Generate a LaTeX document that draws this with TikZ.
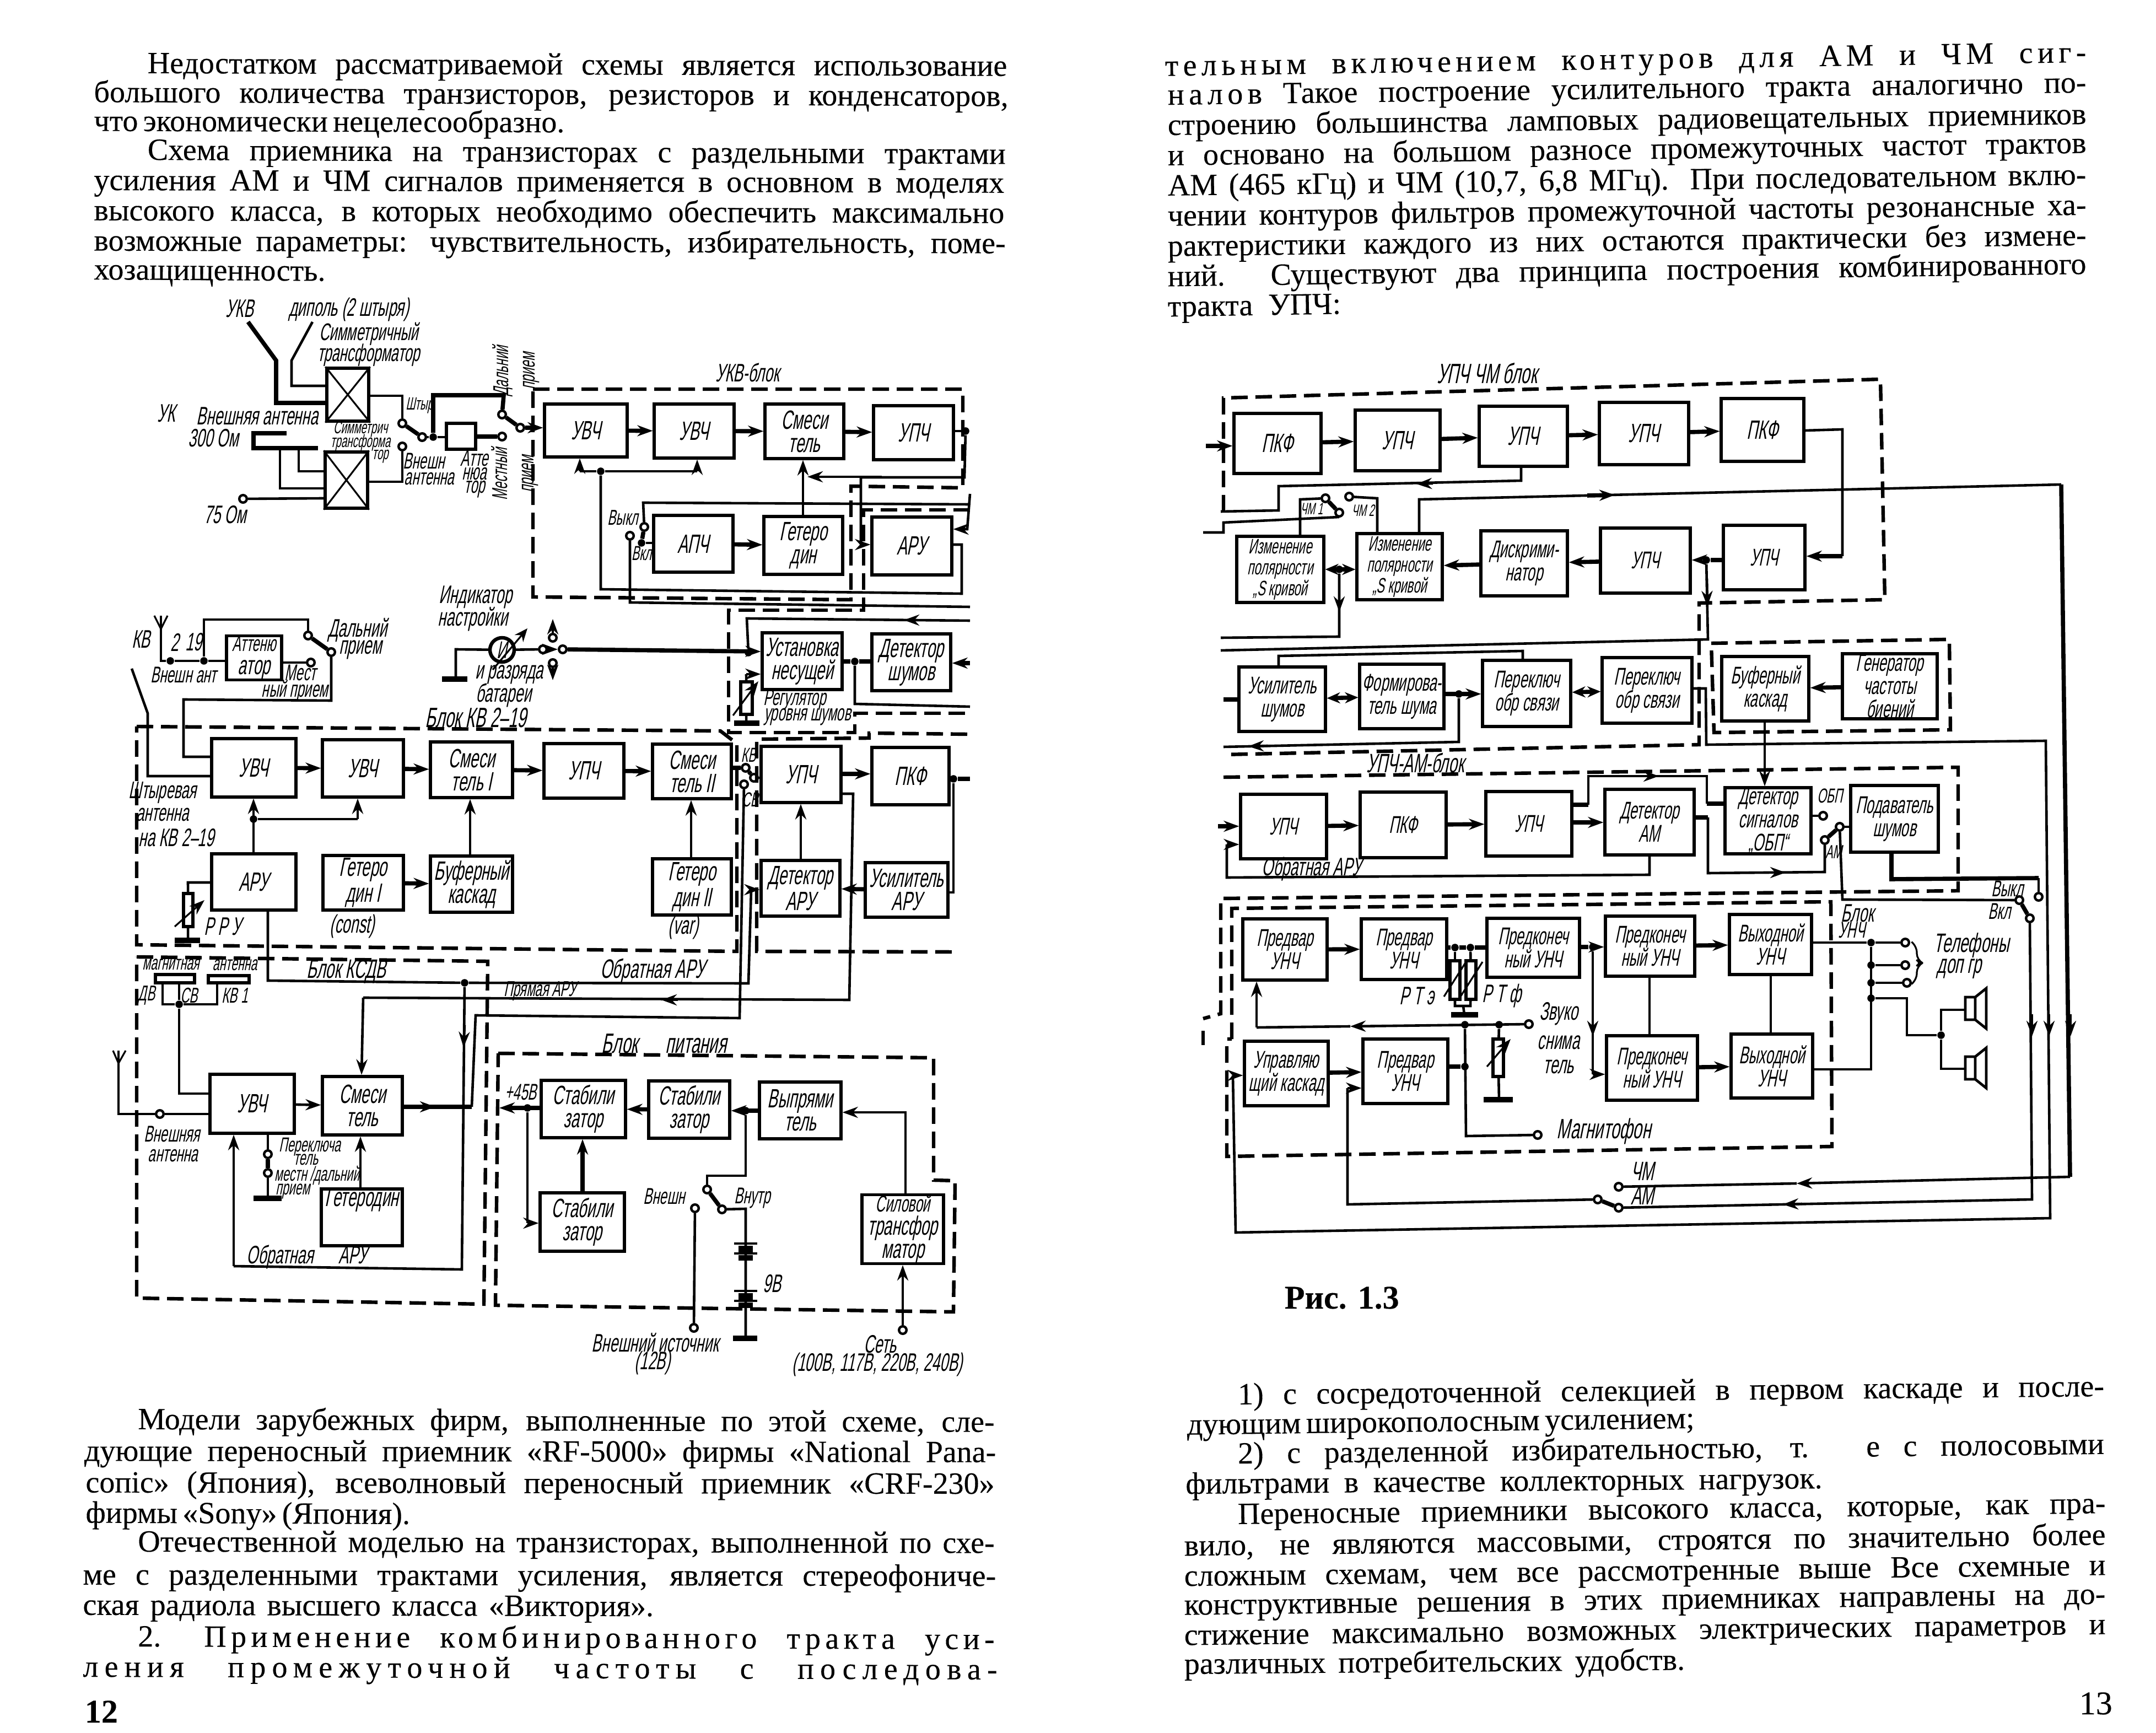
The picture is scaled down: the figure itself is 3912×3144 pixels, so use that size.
\documentclass[tikz,border=0pt]{standalone}
\usepackage{fontspec}
\usetikzlibrary{arrows.meta}
\setmainfont[FakeBold=0.2]{Liberation Serif}
\newfontfamily\gost[FakeStretch=.58,FakeSlant=.2]{Liberation Sans}
\newcount\lbc
\tikzset{
 wr/.style={line width=0.8pt,line join=miter},
 wt/.style={line width=1.9pt},
 wm/.style={line width=1.15pt},
 ar/.style={-{Stealth[length=7pt,width=5pt]}},
 ab/.style={{Stealth[length=6pt,width=5pt]}-{Stealth[length=6pt,width=5pt]}},
 dsh/.style={line width=1.6pt,dash pattern=on 7.5pt off 3.5pt},
 boxst/.style={draw,line width=1.3pt,inner sep=0pt,align=center,font=\gost\fontsize{12}{10.5}\selectfont},
 cirst/.style={circle,draw,fill=white,line width=1.1pt,minimum size=3.4pt,inner sep=0pt},
 dotst/.style={circle,fill=black,minimum size=3.4pt,inner sep=0pt},
 lbst/.style={inner sep=0pt,align=center,font=\gost},
 gnd/.style={line width=2.4pt},
 txt/.style={inner sep=0pt,anchor=base west,font=\fontsize{14}{14}\selectfont},
}
\newcommand{\Bx}[6]{\pgfmathsetmacro\bw{(#4-#2)*.25}\pgfmathsetmacro\bh{(#5-#3)*.25}%
 \node[boxst,minimum width=\bw pt,minimum height=\bh pt] (#1) at ({(#2+#4)/2},{(#3+#5)/2}) {#6};}
\newcommand{\Cir}[3]{\node[cirst] (#1) at (#2,#3) {};}
\newcommand{\Dt}[3]{\node[dotst] (#1) at (#2,#3) {};}
\newcommand{\Lb}[4]{\global\advance\lbc by 1 \pgfmathsetmacro\lbs{#3*1.15}\node[lbst] (lb\the\lbc) at (#1,#2) {\fontsize{\lbs}{\lbs}\selectfont #4};}
\newcommand{\LbR}[4]{\global\advance\lbc by 1 \pgfmathsetmacro\lbs{#3*1.15}\node[lbst,rotate=90] (lb\the\lbc) at (#1,#2) {\fontsize{\lbs}{\lbs}\selectfont #4};}
\newcommand{\Tl}[5]{\global\advance\lbc by 1 \pgfmathsetmacro\tlw{veclen(#3-#1,#4-#2)*2.495*.25}\pgfmathsetmacro\tla{atan2(#2-#4,#3-#1)}%
 \node[txt,rotate=\tla] (tl\the\lbc) at ({#1*2.495},{#2*2.495+18}) {\makebox[\tlw pt][s]{#5}};}
\begin{document}
\begin{tikzpicture}[x=0.25pt,y=-0.25pt]
\fill[white] (0,0) rectangle (3912,3144);
\useasboundingbox (0,0) rectangle (3912,3144);
\clip (0,0) rectangle (3912,3144);
%% ---------- text left
\Tl{107}{46}{732}{48}{Недостатком рассматриваемой схемы является использование}
\Tl{68}{67}{733}{70}{большого количества транзисторов, резисторов и конденсаторов,}
\Tl{68}{88}{400}{89}{что экономически нецелесообразно.}
\Tl{107}{109}{731}{112}{Схема приемника на транзисторах с раздельными трактами}
\Tl{68}{131}{730}{133}{усиления АМ и ЧМ сигналов применяется в основном в моделях}
\Tl{68}{153}{730}{155}{высокого класса, в которых необходимо обеспечить максимально}
\Tl{68}{175}{731}{177}{возможные параметры: чувствительность, избирательность, поме-}
\Tl{68}{196}{232}{197}{хозащищенность.}
\Tl{100}{1032}{723}{1034}{Модели зарубежных фирм, выполненные по этой схеме, сле-}
\Tl{61}{1055}{724}{1056}{дующие переносный приемник «RF-5000» фирмы «National Pana-}
\Tl{62}{1078}{723}{1079}{сопіс» (Япония), всеволновый переносный приемник «CRF-230»}
\Tl{62}{1100}{295}{1101}{фирмы «Sony» (Япония).}
\Tl{100}{1121}{723}{1122}{Отечественной моделью на транзисторах, выполненной по схе-}
\Tl{60}{1145}{724}{1146}{ме с разделенными трактами усиления, является стереофониче-}
\Tl{60}{1167}{475}{1168}{ская радиола высшего класса «Виктория».}
\Tl{100}{1190}{723}{1192}{2. \addfontfeature{LetterSpace=15}Применение комбинированного тракта уси-}
\Tl{60}{1212}{725}{1214}{\addfontfeature{LetterSpace=20}ления промежуточной частоты с последова-}
\global\advance\lbc by 1 \node[txt,font=\bfseries\fontsize{15}{15}\selectfont] (tl\the\lbc) at (153,3125) {12};
%% ---------- text right
\Tl{847}{48}{1517}{38}{\addfontfeature{LetterSpace=15}тельным включением контуров для АМ и ЧМ сиг-}
\Tl{849}{69}{1517}{60}{{\addfontfeature{LetterSpace=15}налов} Такое построение усилительного тракта аналогично по-}
\Tl{849}{91}{1517}{83}{строению большинства ламповых радиовещательных приемников}
\Tl{849}{113}{1517}{104}{и основано на большом разносе промежуточных частот трактов}
\Tl{849}{135}{1517}{127}{АМ (465 кГц) и ЧМ (10,7, 6,8 МГц). При последовательном вклю-}
\Tl{849}{157}{1517}{149}{чении контуров фильтров промежуточной частоты резонансные ха-}
\Tl{849}{179}{1517}{171}{рактеристики каждого из них остаются практически без измене-}
\Tl{849}{201}{1517}{192}{ний. Существуют два принципа построения комбинированного}
\Tl{849}{223}{975}{221}{тракта УПЧ:}
\global\advance\lbc by 1 \node[txt,font=\bfseries\fontsize{15}{15}\selectfont] (tl\the\lbc) at (2330,2374) {Рис. 1.3};
\Tl{900}{1014}{1530}{1008}{1) с сосредоточенной селекцией в первом каскаде и после-}
\Tl{863}{1036}{1170}{1032}{дующим широкополосным усилением;}
\Tl{900}{1057}{1530}{1050}{2) с разделенной избирательностью, т. е с полосовыми}
\Tl{862}{1079}{1325}{1075}{фильтрами в качестве коллекторных нагрузок.}
\Tl{900}{1101}{1531}{1093}{Переносные приемники высокого класса, которые, как пра-}
\Tl{861}{1124}{1531}{1116}{вило, не являются массовыми, строятся по значительно более}
\Tl{861}{1146}{1531}{1138}{сложным схемам, чем все рассмотренные выше Все схемные и}
\Tl{861}{1167}{1531}{1159}{конструктивные решения в этих приемниках направлены на до-}
\Tl{861}{1189}{1531}{1181}{стижение максимально возможных электрических параметров и}
\Tl{861}{1210}{1225}{1207}{различных потребительских удобств.}
\global\advance\lbc by 1 \node[txt,font=\fontsize{15}{15}\selectfont] (tl\the\lbc) at (3772,3110) {13};

%% ========== LEFT DIAGRAM : boxes
\Bx{tr1}{593}{668}{669}{764}{}
\Bx{tr2}{590}{820}{667}{922}{}
\draw[wr] (tr1.north west)--(tr1.south east) (tr1.north east)--(tr1.south west);
\draw[wr] (tr2.north west)--(tr2.south east) (tr2.north east)--(tr2.south west);
\Bx{att}{810}{768}{863}{815}{}
\Bx{uu1}{988}{733}{1138}{829}{УВЧ}
\Bx{uu2}{1187}{733}{1332}{831}{УВЧ}
\Bx{usm}{1388}{733}{1531}{832}{Смеси\\тель}
\Bx{uup}{1585}{736}{1730}{834}{УПЧ}
\Bx{uap}{1186}{935}{1330}{1038}{АПЧ}
\Bx{uge}{1386}{937}{1529}{1042}{Гетеро\\дин}
\Bx{uar}{1582}{938}{1727}{1043}{АРУ}
\Bx{ust}{1383}{1148}{1528}{1251}{Установка\\несущей}
\Bx{ude}{1582}{1150}{1725}{1253}{Детектор\\шумов}
\Bx{krr}{1344}{1237}{1365}{1296}{}
\Bx{kat}{411}{1154}{511}{1233}{\fontsize{10}{10}\selectfont Аттеню\\атор}
\Bx{ku1}{384}{1340}{537}{1446}{УВЧ}
\Bx{ku2}{585}{1342}{732}{1446}{УВЧ}
\Bx{ks1}{781}{1346}{930}{1447}{Смеси\\тель I}
\Bx{kup}{987}{1349}{1132}{1448}{УПЧ}
\Bx{ks2}{1184}{1350}{1327}{1449}{Смеси\\тель II}
\Bx{kar}{384}{1549}{537}{1651}{АРУ}
\Bx{kg1}{586}{1552}{732}{1651}{Гетеро\\дин I}
\Bx{kbu}{781}{1553}{930}{1655}{Буферный\\каскад}
\Bx{kg2}{1184}{1558}{1327}{1660}{Гетеро\\дин II}
\Bx{krp}{333}{1621}{350}{1681}{}
\Bx{rup}{1381}{1354}{1526}{1456}{УПЧ}
\Bx{rpk}{1582}{1356}{1722}{1460}{ПКФ}
\Bx{rda}{1381}{1561}{1524}{1662}{Детектор\\АРУ}
\Bx{rua}{1570}{1565}{1720}{1664}{Усилитель\\АРУ}
\Bx{su}{381}{1949}{534}{2056}{УВЧ}
\Bx{ss}{585}{1953}{730}{2059}{Смеси\\тель}
\Bx{sg}{583}{2157}{730}{2260}{\raisebox{5pt}[0pt][0pt]{Гетеродин}}
\Bx{p1}{982}{1960}{1135}{2064}{Стабили\\затор}
\Bx{p2}{1177}{1961}{1324}{2065}{Стабили\\затор}
\Bx{pv}{1378}{1963}{1526}{2066}{Выпрями\\тель}
\Bx{p3}{980}{2164}{1133}{2270}{Стабили\\затор}
\Bx{ptr}{1564}{2176}{1712}{2284}{\fontsize{10.5}{9.5}\selectfont Силовой\\трансфор\\матор}
\Bx{mb1}{282}{1768}{353}{1783}{}
\Bx{mb2}{378}{1770}{452}{1783}{}
%% small circles / dots
\Cir{c1}{730}{768}\Cir{c2}{766}{793}\Dt{d2}{786}{793}\Cir{c3}{911}{752}\Cir{c4}{944}{776}\Cir{c5}{911}{792}\Cir{c6}{730}{810}\Cir{c7}{441}{905}
\Dt{d3}{1752}{782}\Cir{c8}{1169}{956}\Cir{c9}{1143}{972}\Dt{d4}{1164}{985}\Dt{d5}{1090}{855}
\node[circle,draw,line width=1.6pt,fill=white,minimum size=11pt,inner sep=0pt,font=\gost\fontsize{11}{10}\selectfont] (mtr) at (911,1179) {И};
\Cir{c10}{985}{1178}\Cir{c11}{1021}{1178}\Cir{c12}{1003}{1157}\Cir{c13}{1003}{1203}
\Dt{d7}{1358}{1184}\Dt{d8}{1551}{1200}
\Dt{d9}{309}{1199}\Dt{d10}{370}{1199}\Cir{c14}{559}{1153}\Cir{c15}{601}{1183}\Cir{c16}{564}{1202}
\Cir{c17}{1353}{1393}\Cir{c18}{1368}{1411}\Cir{c19}{1350}{1423}\Dt{d11}{460}{1486}\Dt{d12}{843}{1783}\Dt{d13}{1730}{1413}
\Dt{d14}{325}{1822}\Cir{c20}{290}{2021}\Cir{c21}{486}{2094}\Cir{c22}{486}{2128}
\Dt{d15}{957}{2010}\Dt{d16}{1353}{2015}\Cir{c23}{1283}{2158}\Cir{c24}{1310}{2194}\Cir{c25}{1261}{2192}\Cir{c26}{1259}{2409}\Cir{c27}{1638}{2413}
%% wires: antennas
\coordinate (ua) at (450,584);\coordinate (ub) at (567,584);
\draw[wt] (ua)--(501,654)--(501,731)--(tr1.west|-0,731);
\draw[wm] (ub)--(529,654)--(529,700)--(tr1.west|-0,700);
\coordinate (fd) at (520,786);\coordinate (fe) at (577,813);
\draw[wt] (fd)--(460,786)--(460,813)--(fe);
\draw[wm] (508,813)--(508,886)--(tr2.west|-0,886);
\draw[wm] (542,813)--(542,855)--(tr2.west|-0,855);
\draw[wm] (c7)--(tr2.west|-0,904);
\draw[wm] (tr1.east|-0,718)--(730,718)--(c1);
\draw[wt] (c1)--(c2);\draw[wm] (c2)--(d2);\draw[wm] (d2)--(att.west|-d2);
\draw[wt] (d2)--(786,717)--(914,717)--(c3);
\draw[wt] (c3)--(c4);\draw[wt,ar] (c4)--(uu1.west|-c4);
\draw[wt] (att.east|-c5)--(c5);
\draw[wm] (c6)--(730,874)--(tr2.east|-0,874);
%% wires UKV block
\draw[wt,ar] (uu1)--(uu2);\draw[wt,ar] (uu2)--(usm);\draw[wt,ar] (usm)--(uup);
\draw[wm] (uup.east|-d3)--(d3);
\draw[wm,ar] (uge.north-|1457,0)--(usm.south-|1457,0);
\draw[wt,ar] (uap)--(uge);
\draw[wm] (d5)--(1052,855);\draw[wm,ar] (1052,855)--(uu1.south-|1052,0);
\draw[wm] (d5)--(1265,855);\draw[wm,ar] (1265,855)--(uu2.south-|1265,0);
\draw[wm] (uar.east|-0,988)--(1745,988)--(1745,1077)--(1090,1069)--(d5);
\draw[wm] (d3)--(1750,866)--(1562,866)--(1562,988);
\draw[wm,ar] (1562,988)--(uar.west|-0,988);
\draw[wm,ar] (1600,865)--(1465,865);
\coordinate (re1) at (1760,915);\coordinate (re2) at (1760,1101);\coordinate (re3) at (1760,896);
\draw[wm] (c8)--(1167,912)--(re1);
\draw[wm] (c9)--(1143,1093)--(re2);
\draw[wt] (c8)--(d4);\draw[wm] (d4)--(uap.west|-d4);
\draw[wm,ar] (re3)--(1755,960)--(uar.east|-0,960);
%% Indicator
\coordinate (mg) at (827,1232);
\draw[wm] (mtr)--(827,1178)--(mg);\draw[gnd] (802,1232)--(848,1232);
\draw[wr,-{Stealth[length=6pt,width=5pt]}] (894,1215)--(957,1140);
\draw[wm] (mtr)--(c10);\draw[wt,ar] (c10)--(c11);
\draw[wm,ar] (c12)--(1003,1123);\draw[wm,ar] (c13)--(1003,1234);
\draw[wt,ar] (c11)--(ust.west|-0,1182);
%% noise part
\coordinate (nr1) at (1760,1126);\coordinate (nr2) at (1760,1282);\coordinate (nr3) at (1760,1203);\coordinate (kr4) at (1760,1413);
\draw[wm] (nr1)--(1355,1122)--(d7);\draw[wm,ar] (1680,1125)--(1640,1125);
\draw[wm] (krr)--(1354,1223);\draw[wm,ar] (1354,1223)--(ust.west|-0,1223);
\draw[wm] (krr)--(1354,1312);\draw[gnd] (1332,1312)--(1378,1312);
\draw[wr,ar] (1330,1298)--(1376,1236);
\draw[wt] (ust.east|-d8)--(d8)--(ude.west|-d8);
\draw[wm] (d8)--(1551,1277)--(nr2);
\draw[wt,ar] (nr3)--(ude.east|-nr3);
%% KV in
\coordinate (kant) at (292,1141);
\draw[wm] (kant)--(292,1199)--(d9)--(d10)--(kat.west|-d10);
\draw[wr] (280,1117)--(kant)--(304,1117);\draw[wr] (292,1117)--(kant);
\draw[wm] (d10)--(370,1124)--(559,1124)--(c14);
\draw[wt] (c14)--(c15);\draw[wm] (kat.east|-c16)--(c16);
\draw[wm] (c15)--(601,1271)--(333,1269)--(333,1373)--(ku1.west|-0,1373);
\coordinate (kst) at (239,1213);
\draw[wm] (kst)--(268,1294)--(268,1408)--(ku1.west|-0,1408);
\draw[wt,ar] (ku1)--(ku2);\draw[wt,ar] (ku2)--(ks1);\draw[wt,ar] (ks1)--(kup);\draw[wt,ar] (kup)--(ks2);
\draw[wm,ar] (kar.north-|460,0)--(ku1.south-|460,0);
\draw[wm] (d11)--(649,1486);\draw[wm,ar] (649,1486)--(ku2.south-|649,0);
\draw[wm,ar] (kbu.north-|853,0)--(ks1.south-|853,0);
\draw[wm,ar] (kg2.north-|1254,0)--(ks2.south-|1254,0);
\draw[wt,ar] (kg1)--(kbu);
\draw[wm] (krp)--(341,1601)--(kar.west|-0,1601);
\draw[wm] (krp)--(341,1706);\draw[gnd] (317,1706)--(363,1706);
\draw[wr,ar] (317,1681)--(371,1633);
\draw[wt] (ks2.east|-c17)--(c17);\draw[wt] (c17)--(c18);\draw[wm] (c18)--(rup.west|-c18);
\draw[wt,ar] (rup.east|-0,1404)--(rpk.west|-0,1404);
\draw[wm,ar] (rda.north-|1453,0)--(rup.south-|1453,0);
\draw[wt,ar] (rua)--(rda);
\draw[wt] (rpk.east|-d13)--(d13)--(kr4);
\draw[wm] (d13)--(1730,1619)--(rua.east|-0,1619);
\draw[wm] (kar.south-|486,0)--(486,1779)--(d12)--(1358,1784)--(1363,1614);
\draw[wm,ar] (1363,1614)--(rda.west|-0,1614);
\draw[wm] (c19)--(1342,1847)--(863,1842)--(856,2008);
\draw[wt] (ss.east|-0,2008)--(856,2008);\draw[wm,ar] (780,2008)--(790,2008);
\draw[wm] (d12)--(838,2303)--(424,2297);\draw[wm,ar] (424,2297)--(su.south-|424,0);
\draw[wm,ar] (843,1860)--(841,1900);
\draw[wm] (rup.east|-0,1440)--(1548,1440)--(1541,1814)--(659,1810);
\draw[wm,ar] (659,1810)--(656,1950);
\draw[wm,ar] (1230,1814)--(1200,1814);
%% KSDV
\draw[wm] (295,1783)--(295,1822)--(d14)--(394,1822)--(394,1783);
\draw[wm] (325,1783)--(d14);
\draw[wm] (d14)--(325,1984)--(su.west|-0,1984);
\coordinate (san) at (215,1929);
\draw[wr] (205,1906)--(san)--(228,1906);\draw[wr] (215,1906)--(san);
\draw[wm] (san)--(215,2021)--(c20)--(su.west|-c20);
\draw[wm,ar] (su)--(ss);
\draw[wm] (su.south-|486,0)--(c21);\draw[wt] (c21)--(c22);\draw[wm] (c22)--(486,2174);\draw[gnd] (460,2174)--(511,2174);
\draw[wm,ar] (sg.north-|654,0)--(ss.south-|654,0);
%% Power
\draw[wt,ar] (p1.west|-d15)--(906,2010);
\draw[wm] (d15)--(957,2219);\draw[wm,ar] (957,2219)--(p3.west|-0,2219);
\draw[wt,ar] (p3.north-|1057,0)--(p1.south-|1057,0);
\draw[wt,ar] (p2)--(p1);
\draw[wt,ar] (pv.west|-d16)--(p2.east|-d16);
\draw[wm] (d16)--(1353,2133)--(1283,2133)--(c23);
\draw[wt] (c23)--(c24);
\coordinate (bg) at (1353,2428);
\draw[wm] (c24)--(1353,2193)--(bg);\draw[gnd] (1330,2428)--(1374,2428);
\draw[wm] (c25)--(c26);
\draw[wm,ar] (ptr.north-|1643,0)--(1643,2018)--(pv.east|-0,2018);
\draw[wm,ar] (c27)--(ptr.south-|1638,0);
\begin{scope}[line width=1.2pt]
\draw (1332,2256)--(1374,2256);\draw[gnd,line width=3pt] (1340,2266)--(1366,2266);\draw (1332,2274)--(1374,2274);\draw[gnd] (1340,2282)--(1366,2282);
\draw (1332,2342)--(1374,2342);\draw[gnd,line width=3pt] (1340,2352)--(1366,2352);\draw (1332,2360)--(1374,2360);\draw[gnd] (1340,2368)--(1366,2368);
\end{scope}
%% Dashed left
\draw[dsh] (967,706)--(1747,706)--(1747,885)--(1544,882)--(1544,1088)--(967,1083)--cycle;
\draw[dsh] (1760,925)--(1567,925)--(1567,1107)--(1322,1107)--(1322,1329)--(1551,1329)--(1551,1294)--(1760,1294);
\draw[dsh] (248,1318)--(1307,1326)--(1337,1349)--(1337,1726)--(248,1714)--cycle;
\draw[dsh] (1755,1332)--(1577,1330)--(1577,1339)--(1373,1341)--(1373,1726)--(1740,1727);
\draw[dsh] (248,1736)--(885,1744)--(878,2366)--(248,2355)--cycle;
\draw[dsh] (904,1911)--(1694,1919)--(1694,2141)--(1733,2142)--(1730,2380)--(899,2368)--cycle;
%% Left labels
\Lb{435}{560}{10}{УКВ}\Lb{633}{562}{10}{диполь (2 штыря)}
\Lb{669}{606}{9.5}{Симметричный}\Lb{669}{644}{9.5}{трансформатор}
\Lb{302}{750}{10}{УК}\Lb{467}{755}{10}{Внешняя антенна}\Lb{387}{795}{10}{300 Ом}
\Lb{409}{934}{10}{75 Ом}\Lb{761}{736}{7}{Штыр}
\Lb{654}{779}{7}{Симметрич}\Lb{654}{803}{7}{трансформа}\Lb{690}{828}{7}{тор}
\Lb{769}{836}{9}{Внешн}\Lb{779}{869}{9}{антенна}
\Lb{861}{831}{9}{Атте}\Lb{861}{860}{9}{нюа}\Lb{861}{888}{9}{тор}
\LbR{936}{673}{8.5}{Дальний\\прием}\LbR{934}{860}{8.5}{Местный\\прием}
\Lb{1356}{676}{10}{УКВ-блок}\Lb{1130}{939}{8.5}{Выкл}\Lb{1164}{1004}{8}{Вкл}
\Lb{863}{1083}{10}{Индикатор}\Lb{858}{1123}{10}{настройки}\Lb{924}{1224}{10}{и разряда}\Lb{914}{1261}{10}{батареи}
\Lb{863}{1302}{11}{Блок КВ 2–19}
\Lb{1442}{1270}{9}{Регулятор}\Lb{1465}{1301}{9}{уровня шумов}
\Lb{256}{1160}{10}{КВ}\Lb{317}{1165}{10}{2}\Lb{351}{1165}{10}{19}\Lb{649}{1143}{10}{Дальний}\Lb{654}{1179}{10}{прием}
\Lb{333}{1224}{9}{Внешн ант}\Lb{545}{1220}{9}{Мест}\Lb{535}{1253}{9}{ный прием}
\Lb{295}{1438}{9.5}{Штыревая}\Lb{295}{1478}{9.5}{антенна}\Lb{320}{1520}{10}{на КВ 2–19}
\Lb{404}{1681}{10}{Р Р У}\Lb{639}{1681}{10}{(const)}\Lb{1240}{1683}{10}{(var)}
\Lb{1358}{1370}{8}{КВ}\Lb{1361}{1451}{8}{СВ}
\Lb{628}{1762}{10.5}{Блок КСДВ}\Lb{1184}{1762}{10.5}{Обратная АРУ}\Lb{980}{1798}{8.5}{Прямая АРУ}
\Lb{310}{1750}{8}{магнитная}\Lb{426}{1751}{8}{антенна}\Lb{266}{1806}{8.5}{ДВ}\Lb{343}{1806}{8.5}{СВ}\Lb{426}{1806}{8.5}{КВ 1}
\Lb{312}{2057}{9}{Внешняя}\Lb{314}{2097}{9}{антенна}
\Lb{562}{2081}{8}{Переключа}\Lb{555}{2104}{8}{тель}\Lb{575}{2133}{8}{местн /дальний}\Lb{531}{2161}{8}{прием}
\Lb{557}{2280}{10}{Обратная\quad АРУ}\Lb{1205}{1893}{11}{Блок\quad питания}\Lb{945}{1981}{9}{+45В}
\Lb{1205}{2170}{9}{Внешн}\Lb{1365}{2174}{9}{Внутр}\Lb{1401}{2329}{10}{9В}
\Lb{1189}{2436}{10}{Внешний источник}\Lb{1184}{2473}{10}{(12В)}\Lb{1597}{2439}{10}{Сеть}\Lb{1592}{2476}{10}{(100В, 117В, 220В, 240В)}

%% ========== RIGHT DIAGRAM boxes
\Bx{a1}{2239}{750}{2397}{859}{ПКФ}
\Bx{a2}{2459}{744}{2613}{854}{УПЧ}
\Bx{a3}{2684}{737}{2844}{846}{УПЧ}
\Bx{a4}{2902}{730}{3064}{843}{УПЧ}
\Bx{a5}{3123}{723}{3273}{837}{ПКФ}
\tikzset{boxst/.append style={font=\gost\fontsize{9.5}{9.5}\selectfont}}
\Bx{b1}{2244}{973}{2402}{1093}{Изменение\\полярности\\„S кривой}
\Bx{b2}{2462}{968}{2617}{1088}{Изменение\\полярности\\„S кривой}
\tikzset{boxst/.append style={font=\gost\fontsize{11}{10.5}\selectfont}}
\Bx{b3}{2687}{963}{2844}{1081}{Дискрими-\\натор}
\Bx{b4}{2904}{958}{3067}{1076}{УПЧ}
\Bx{b5}{3127}{953}{3275}{1070}{УПЧ}
\Bx{e1}{2248}{1210}{2405}{1327}{Усилитель\\шумов}
\Bx{e2}{2467}{1205}{2620}{1322}{Формирова-\\тель шума}
\Bx{e3}{2690}{1198}{2850}{1318}{Переключ\\обр связи}
\Bx{e4}{2907}{1193}{3070}{1312}{Переключ\\обр связи}
\Bx{e5}{3124}{1191}{3282}{1308}{Буферный\\каскад}
\Bx{e6}{3343}{1186}{3515}{1304}{Генератор\\частоты\\биений}
\Bx{f1}{2251}{1441}{2407}{1558}{УПЧ}
\Bx{f2}{2468}{1437}{2624}{1556}{ПКФ}
\Bx{f3}{2696}{1436}{2852}{1553}{УПЧ}
\Bx{f4}{2912}{1432}{3074}{1551}{Детектор\\АМ}
\Bx{f5}{3130}{1429}{3286}{1549}{Детектор\\сигналов\\„ОБП“}
\Bx{f6}{3358}{1425}{3517}{1546}{Подаватель\\шумов}
\Bx{g1}{2255}{1667}{2408}{1778}{Предвар\\УНЧ}
\Bx{g2}{2470}{1667}{2625}{1777}{Предвар\\УНЧ}
\Bx{g3}{2698}{1666}{2866}{1773}{Предконеч\\ный УНЧ}
\Bx{g4}{2913}{1662}{3075}{1771}{Предконеч\\ный УНЧ}
\Bx{g5}{3138}{1659}{3287}{1768}{Выходной\\УНЧ}
\Bx{h1}{2258}{1889}{2410}{2006}{Управляю\\щий каскад}
\Bx{h2}{2473}{1885}{2627}{2002}{Предвар\\УНЧ}
\Bx{h4}{2915}{1879}{3080}{1996}{Предконеч\\ный УНЧ}
\Bx{h5}{3141}{1876}{3289}{1992}{Выходной\\УНЧ}
\Bx{rt1}{2631}{1743}{2649}{1813}{}
\Bx{rt2}{2660}{1743}{2678}{1813}{}
\Bx{rv}{2709}{1885}{2728}{1953}{}
\Cir{e7}{2405}{904}\Cir{e8}{2430}{930}\Cir{e9}{2448}{901}
\Dt{q1}{2430}{1033}\Dt{q2}{3096}{1016}\Dt{q3}{2647}{1259}
\Cir{e10}{3308}{1480}\Cir{e11}{3338}{1500}\Cir{e12}{3311}{1524}
\Cir{e13}{3664}{1633}\Cir{e14}{3683}{1666}\Cir{e15}{3699}{1627}
\Dt{q4}{2640}{1719}\Dt{q5}{2668}{1719}\Dt{q6}{2890}{1718}
\Dt{q7}{3395}{1710}\Dt{q8}{3395}{1751}\Dt{q9}{3395}{1783}\Dt{q10}{3395}{1811}
\Cir{e16}{3457}{1710}\Cir{e17}{3457}{1751}\Cir{e18}{3460}{1783}\Dt{q11}{3522}{1878}
\Cir{e19}{2774}{1858}\Dt{q12}{2658}{1859}\Dt{q13}{2720}{1859}\Dt{q14}{2658}{1935}\Cir{e20}{2790}{2059}
\Cir{e21}{2899}{2176}\Cir{e22}{2937}{2191}\Cir{e23}{2937}{2153}
%% wires row 1
\coordinate (ain) at (2188,809);
\draw[wt,ar] (ain)--(a1.west|-ain);
\draw[wt,ar] (a1)--(a2);\draw[wt,ar] (a2)--(a3);\draw[wt,ar] (a3)--(a4);\draw[wt,ar] (a4)--(a5);
\draw[wm] (a5.east|-0,781)--(3343,779)--(3343,1009);\draw[wt,ar] (3343,1009)--(b5.east|-0,1009);
\coordinate (a3l) at (2215,928);
\draw[wm] (a3.south-|2760,0)--(2760,872)--(2320,882)--(2320,926)--(a3l);
\draw[wm,ar] (2600,877)--(2570,878);
%% switch
\draw[wm] (b1.north-|2359,0)--(2359,906)--(e7);
\draw[wt] (e7)--(e8);
\coordinate (swl) at (2183,966);
\draw[wm] (e8)--(2430,938)--(2220,948)--(2220,966)--(swl);
\draw[wm] (e9)--(2499,904)--(b2.north-|2499,0);
\draw[wm] (b2.north-|2575,0)--(2575,906)--(3740,879);
\draw[wt,ar] (2880,899)--(2930,898);
\draw[wt] (3740,879)--(3756,2135);
\draw[wm,ar] (3756,2135)--(3260,2147);\draw[wm] (3260,2147)--(e23);
%% row 2
\draw[wt] (b5.west|-q2)--(q2);\draw[wt,ar] (q2)--(b4.east|-q2);
\draw[wt,ar] (b4)--(b3);\draw[wt,ar] (b3)--(b2);
\draw[wt,ab] (b1.east|-q1)--(b2.west|-q1);
\coordinate (q1l) at (2215,1157);\coordinate (q2l) at (2215,1180);
\draw[wm] (q1)--(2430,1155)--(q1l);\draw[wm,ar] (2430,1060)--(2430,1110);
\draw[wm] (q2)--(3099,1160)--(q2l);\draw[wm,ar] (3097,1050)--(3098,1100);
%% row 3
\coordinate (el) at (2220,1269);
\draw[wt] (el)--(e1.west|-el);
\draw[wt,ab] (e1)--(e2);\draw[wt,ar] (e2.east|-q3)--(e3.west|-q3);\draw[wt,ab] (e3)--(e4);
\draw[wt,ar] (e6)--(e5);
\draw[wm] (e1.north-|2320,0)--(2320,1190)--(2763,1181)--(e3.north-|2763,0);
\coordinate (q3l) at (2220,1355);
\draw[wm] (q3)--(2647,1346)--(q3l);\draw[wm,ar] (2300,1353)--(2265,1354);
\draw[wm] (e4.east|-0,1249)--(3095,1249)--(3096,1351)--(3712,1344)--(3720,2210)--(2242,2236)--(2237,1951);
\draw[wm,ar] (2237,1951)--(h1.west|-0,1951);
\draw[wm,ar] (3718,1840)--(3718,1880);
\draw[wm,ar] (e5.south-|3202,0)--(f5.north-|3202,0);
%% row 4
\coordinate (fin) at (2210,1499);
\draw[wt,ar] (fin)--(f1.west|-fin);
\draw[wt,ar] (f1)--(f2);\draw[wt,ar] (f2)--(f3);\draw[wt,ar] (f3.east|-0,1492)--(f4.west|-0,1492);
\draw[wt] (f3.east|-0,1460)--(2882,1460);
\draw[wm] (2882,1460)--(2882,1408)--(3097,1408)--(3097,1458);\draw[wt] (3097,1458)--(f5.west|-0,1458);
\draw[wm,ar] (2980,1408)--(3010,1408);
\draw[wm] (f4.south-|2993,0)--(2993,1587)--(2226,1592)--(2226,1532);
\draw[wm,ar] (2226,1532)--(f1.west|-0,1532);
\draw[wt] (f4.east|-0,1483)--(3099,1483);
\draw[wm] (3099,1483)--(3099,1584)--(3311,1582)--(e12);\draw[wm,ar] (3210,1583)--(3240,1583);
\draw[wm] (f5.east|-e10)--(e10);
\draw[wt] (e12)--(e11);\draw[wm] (e11)--(f6.west|-e11);
\draw[wm] (e11)--(3343,1632)--(e13);
\draw[wt] (f6.south-|3432,0)--(3432,1595)--(3699,1593);\draw[wm] (3699,1593)--(e15);
\draw[wt] (e13)--(e14);
\draw[wm] (e14)--(3687,2176)--(e22);\draw[wm,ar] (3687,1840)--(3687,1880);\draw[wm,ar] (3270,2184)--(3235,2185);
%% row 5
\draw[wt,ar] (g1)--(g2);
\draw[wt] (g2.east|-q4)--(q4)--(q5)--(g3.west|-q5);
\draw[wm] (q4)--(rt1);\draw[wm] (q5)--(rt2);
\coordinate (rg) at (2657,1841);
\draw[wm] (rt1)--(2640,1825)--(2668,1825)--(rt2);\draw[wm] (2655,1825)--(rg);\draw[gnd] (2633,1841)--(2682,1841);
\draw[wr] (2620,1808)--(2660,1745);\draw[wr] (2650,1808)--(2690,1745);
\draw[wt] (g3.east|-q6)--(q6);\draw[wt,ar] (q6)--(g4.west|-q6);
\draw[wm] (q6)--(2890,1949);\draw[wm,ar] (2890,1949)--(h4.west|-0,1949);\draw[wm,ar] (2890,1840)--(2890,1880);
\draw[wt,ar] (g4)--(g5);\draw[wt,ar] (h4)--(h5);
\draw[wr] (g4.south-|2993,0)--(h4.north-|2993,0);
\draw[wr] (g5.south-|3213,0)--(h5.north-|3213,0);
\draw[wm] (g5.east|-q7)--(q7)--(e16);
\draw[wm] (q7)--(3395,1940)--(h5.east|-0,1940);
\draw[wm] (q8)--(e17);\draw[wm] (q9)--(e18);
\coordinate (sp1) at (3566,1832);\coordinate (sp2) at (3566,1939);
\draw[wm] (q10)--(3460,1811)--(3460,1878)--(q11);
\draw[wm] (q11)--(3522,1832)--(sp1);\draw[wm] (q11)--(3522,1939)--(sp2);
\foreach \yy in {1809,1917}{\draw[line width=1.2pt,line join=miter] (3566,\yy)--(3584,\yy)--(3584,\yy+41)--(3566,\yy+41)--cycle (3584,\yy)--(3604,\yy-16)--(3604,\yy+57)--(3584,\yy+41);}
\draw[wr,rounded corners=3pt] (3470,1710)--(3478,1716)--(3478,1742)--(3488,1747)--(3478,1752)--(3478,1778)--(3470,1784);
\draw[wm,ar] (e19)--(2450,1862);\draw[wm] (2450,1862)--(2280,1864);\draw[wm,ar] (2280,1864)--(g1.south-|2280,0);
\draw[wm] (q12)--(2660,2061)--(e20);
\draw[wm] (q13)--(rv);\draw[wm] (rv)--(2720,1995);\draw[gnd] (2692,1995)--(2745,1995);
\draw[wr,ar] (2698,1935)--(2741,1885);
\draw[wt,ar] (h1)--(h2);
\draw[wt] (h2.east|-q14)--(q14);
\draw[wm,ar] (2445,1974)--(h2.west|-0,1974);
\draw[wm] (e21)--(2445,2185)--(2445,1974);
\draw[wt] (e21)--(e22);
\draw[wm,ar] (3757,1840)--(3757,1880);
%% Dashed right
\draw[dsh] (2220,928)--(2220,722)--(3412,688)--(3420,1088)--(3083,1094)--(3083,1351)--(2220,1369);
\draw[dsh] (3105,1167)--(3537,1160)--(3539,1324)--(3110,1329)--cycle;
\draw[dsh] (2220,1410)--(3553,1392)--(3553,1616)--(2215,1630)--(2215,1839)--(2183,1848);
\draw[dsh] (2183,1870)--(2183,1896);
\draw[dsh] (2235,1885)--(2235,1648)--(3322,1636)--(3324,2080)--(2226,2098)--(2226,1885)--cycle;
%% Right labels
\Lb{2698}{677}{11}{УПЧ ЧМ блок}
\Lb{2380}{923}{6.5}{ЧМ 1}\Lb{2473}{926}{6.5}{ЧМ 2}
\Lb{2568}{1384}{10.5}{УПЧ-АМ-блок}\Lb{2380}{1576}{10}{Обратная АРУ}
\Lb{3320}{1444}{8}{ОБП}\Lb{3327}{1546}{7.5}{АМ}\Lb{3642}{1612}{9}{Выкл}\Lb{3628}{1653}{9}{Вкл}
\Lb{3370}{1657}{10}{Блок}\Lb{3360}{1687}{9}{УНЧ}
\Lb{2571}{1807}{10}{Р Т э}\Lb{2725}{1807}{10}{Р Т ф}
\Lb{2828}{1839}{10}{Звуко}\Lb{2828}{1891}{10}{снима}\Lb{2828}{1935}{10}{тель}
\Lb{2910}{2052}{11}{Магнитофон}
\Lb{3577}{1715}{10.5}{Телефоны}\Lb{3555}{1758}{10.5}{доп гр}
\Lb{2980}{2125}{10.5}{ЧМ}\Lb{2980}{2169}{10.5}{АМ}
\end{tikzpicture}
\end{document}
